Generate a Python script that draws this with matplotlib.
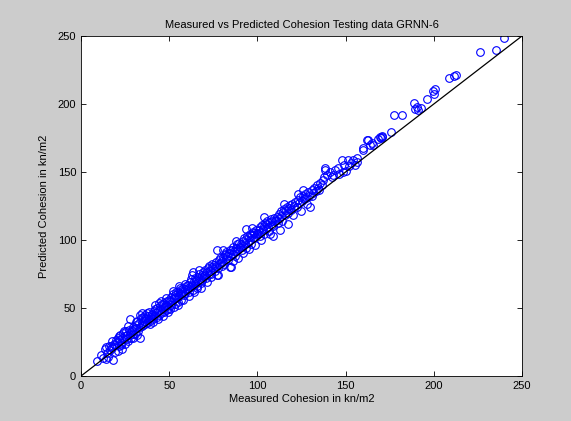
import matplotlib
matplotlib.use('Agg')
import matplotlib.pyplot as plt
import numpy as np

plt.rcParams['font.family'] = ['Liberation Sans', 'DejaVu Sans']

# measured / predicted cohesion (kn/m2), testing set
measured = [
    9.2, 12.7, 13.5, 14.1, 14.8, 15.6, 16.2, 16.9, 17.4, 18.3, 18.8, 19.5, 19.9, 11.5, 15.1, 17.8, 13.9, 19.1,
    20.4, 20.9, 21.3, 21.8, 22.2, 22.6, 23.1, 23.5, 23.9, 24.4, 24.8, 25.2, 25.7, 26.1, 26.6, 27.0, 27.5, 27.9,
    28.3, 28.8, 29.2, 29.7, 20.7, 22.9, 24.1, 25.9, 26.8, 28.1, 29.5, 21.6,
    30.1, 30.6, 31.0, 31.4, 31.9, 32.3, 32.8, 33.2, 33.4, 33.9, 34.3, 34.7, 35.2, 35.6, 36.1, 36.5, 36.9, 37.4,
    37.8, 38.3, 38.7, 39.1, 39.6, 30.9, 32.0, 33.7, 35.0, 36.3, 37.6, 38.9, 39.9, 34.5,
    40.2, 40.6, 41.1, 41.5, 41.9, 42.4, 42.8, 43.3, 43.7, 44.2, 44.6, 45.0, 45.5, 45.9, 46.4, 46.8, 47.2, 47.7,
    48.1, 48.6, 49.0, 49.5, 49.9, 40.9, 42.1, 43.9, 45.3, 46.6, 47.9, 49.3, 44.0, 48.3,
    50.3, 50.8, 51.2, 51.6, 52.1, 52.5, 53.0, 53.4, 53.8, 54.3, 54.7, 55.2, 55.6, 56.0, 56.5, 56.9, 57.4, 57.8,
    58.2, 58.7, 59.1, 59.6, 50.6, 51.9, 53.2, 54.9, 56.2, 57.6, 58.9, 59.9, 55.4, 52.8,
    60.4, 60.8, 61.3, 61.7, 62.2, 62.6, 63.0, 63.5, 63.9, 64.4, 64.8, 65.2, 65.7, 66.1, 66.6, 67.0, 67.4, 67.9,
    68.3, 68.8, 69.2, 69.7, 61.0, 62.9, 64.1, 65.5, 66.9, 68.0, 69.4, 63.3,
    70.1, 70.5, 71.0, 71.4, 71.9, 72.3, 72.7, 73.2, 73.6, 74.1, 74.5, 74.9, 75.4, 75.8, 76.3, 76.7, 77.1, 77.6,
    78.0, 78.5, 78.9, 79.3, 79.8, 71.2, 73.9, 76.9, 77.7, 80.7,
    80.2, 80.6, 81.1, 81.5, 82.0, 82.4, 82.8, 83.3, 83.7, 84.2, 84.6, 85.0, 85.5, 85.9, 86.4, 86.8, 87.2, 87.7,
    88.1, 88.6, 89.0, 89.5, 89.9, 84.5, 86.0, 87.9, 81.8, 88.9,
    90.3, 90.7, 91.2, 91.6, 92.1, 92.5, 92.9, 93.4, 93.8, 94.3, 94.7, 95.1, 95.6, 96.0, 96.5, 96.9, 97.3, 97.8,
    98.2, 98.7, 99.1, 99.6, 91.9, 93.6, 95.3, 97.0, 98.4, 99.9,
    100.3, 100.8, 101.2, 101.7, 102.1, 102.6, 103.0, 103.5, 103.9, 104.4, 104.8, 105.3, 105.7, 106.2, 106.6,
    107.1, 107.5, 108.0, 108.4, 108.9, 109.3, 109.8, 101.9, 104.0, 106.9, 108.6,
    110.3, 110.9, 111.4, 112.0, 112.5, 113.1, 113.6, 114.2, 114.7, 115.3, 115.8, 116.4, 116.9, 117.5, 118.0,
    118.6, 119.1, 119.7, 112.8, 115.0, 117.2, 120.4,
    120.9, 121.5, 122.2, 122.9, 123.6, 124.3, 125.0, 125.7, 126.4, 127.1, 127.8, 128.5, 129.2, 129.8, 123.0,
    125.9, 128.0, 124.7,
    130.8, 131.5, 132.3, 133.1, 133.9, 134.6, 135.4, 136.4, 137.1, 138.0, 138.3, 139.3, 130.8, 134.9,
    143.0, 144.0, 138.3, 141.2, 145.5, 146.4, 147.8, 149.0, 150.2, 151.5, 152.0, 153.3, 154.4, 155.3, 156.3,
    156.3, 148.3, 142.4,
    160.0, 159.7, 162.3, 162.9, 163.8, 164.8, 165.7, 168.2, 169.5, 169.9, 170.5, 170.8, 175.7,
    177.2, 182.2, 188.6, 190.3, 189.3, 192.6, 191.0, 196.1, 200.1, 199.4, 200.7, 208.8, 211.5, 212.6, 226.4,
    235.3, 240.0,
]

predicted = [
    11.0, 13.0, 19.5, 21.3, 16.8, 22.4, 18.9, 21.7, 25.6, 11.8, 23.2, 17.4, 26.3, 15.2, 14.1, 20.5, 12.3, 22.9,
    24.8, 28.1, 21.9, 26.5, 30.2, 24.3, 27.8, 20.1, 31.4, 26.9, 23.5, 29.6, 32.8, 27.2, 25.4, 34.1, 30.5, 42.0,
    28.2, 33.7, 31.0, 35.9, 18.6, 23.0, 33.2, 30.1, 36.8, 32.6, 27.9, 29.4,
    34.6, 31.2, 37.5, 35.0, 40.8, 33.1, 38.6, 36.2, 28.0, 42.3, 39.0, 36.4, 43.5, 40.2, 38.1, 45.0, 41.6, 39.3,
    44.2, 42.0, 47.1, 40.7, 44.8, 39.8, 30.5, 44.9, 37.3, 42.6, 46.3, 38.4, 43.1, 46.0,
    45.3, 42.1, 47.6, 44.4, 49.0, 46.5, 43.7, 50.2, 47.9, 45.1, 51.6, 48.4, 46.0, 52.7, 49.8, 47.2, 53.5, 50.9,
    48.6, 54.8, 51.7, 49.4, 56.0, 39.6, 52.3, 41.8, 55.1, 44.3, 57.2, 46.7, 53.9, 52.0,
    55.2, 52.4, 57.9, 54.6, 60.3, 56.8, 53.1, 59.4, 62.0, 57.3, 54.2, 61.5, 58.7, 63.4, 60.1, 56.0, 62.8, 65.0,
    59.6, 64.1, 61.2, 66.3, 48.9, 62.5, 58.2, 52.0, 64.7, 55.8, 67.4, 62.9, 66.1, 50.7,
    64.9, 67.2, 62.1, 68.8, 65.3, 71.0, 66.7, 63.4, 69.9, 72.3, 67.5, 70.6, 64.8, 73.1, 69.0, 75.2, 71.4, 68.1,
    74.6, 70.9, 76.3, 73.2, 58.5, 74.0, 61.9, 66.2, 78.0, 65.0, 71.8, 76.1,
    74.4, 77.8, 72.0, 76.2, 79.4, 74.9, 81.1, 77.3, 75.0, 80.2, 82.6, 78.4, 81.5, 77.0, 83.9, 80.6, 92.6, 79.1,
    85.2, 82.0, 86.7, 83.3, 81.0, 68.9, 73.0, 74.6, 74.3, 92.6,
    84.7, 87.4, 82.6, 89.1, 86.0, 91.3, 88.2, 85.1, 90.6, 93.0, 87.9, 80.0, 92.4, 89.6, 95.1, 91.8, 88.5, 94.3,
    92.0, 96.7, 93.5, 98.1, 95.2, 80.2, 84.9, 99.0, 90.0, 87.0,
    94.6, 97.0, 92.8, 99.3, 95.9, 101.2, 97.6, 94.2, 100.4, 103.1, 98.0, 101.9, 104.5, 99.7, 96.8, 103.6, 106.0,
    101.3, 104.9, 102.0, 107.4, 103.8, 90.5, 107.8, 93.7, 108.9, 96.5, 105.2,
    104.2, 107.0, 102.6, 109.3, 105.7, 111.0, 107.9, 104.3, 110.5, 112.6, 108.1, 111.7, 114.0, 109.5, 106.8,
    113.2, 115.5, 111.0, 113.9, 110.6, 116.4, 114.1, 99.8, 116.9, 104.1, 103.0,
    114.6, 117.2, 112.7, 119.0, 115.8, 121.1, 117.4, 113.9, 120.3, 122.7, 118.2, 121.9, 124.0, 119.6, 123.5,
    125.4, 121.8, 126.1, 107.5, 126.8, 112.0, 118.4,
    125.2, 127.9, 124.1, 129.6, 127.0, 131.4, 128.8, 132.7, 130.3, 133.6, 131.1, 135.0, 132.4, 124.5, 134.0,
    137.0, 126.3, 121.6,
    136.8, 134.2, 138.5, 136.0, 140.4, 138.1, 142.0, 140.4, 144.2, 146.6, 152.7, 147.8, 132.5, 137.0,
    147.8, 151.5, 151.5, 149.9, 153.2, 148.7, 158.8, 155.1, 151.0, 158.8, 154.3, 156.7, 158.8, 155.1, 160.0,
    157.6, 150.3, 146.0,
    167.4, 166.2, 173.5, 173.5, 169.9, 171.6, 169.9, 174.0, 175.5, 174.8, 176.5, 176.0, 179.6,
    192.2, 192.0, 200.8, 198.0, 196.3, 196.8, 195.6, 204.0, 207.4, 209.6, 211.0, 218.9, 220.8, 221.3, 238.0,
    239.7, 248.8,
]

fig = plt.figure(figsize=(5.71, 4.21), dpi=100, facecolor='#cccccc')
ax = fig.add_axes([0.1419, 0.1069, 0.7723, 0.8076])
ax.set_facecolor('white')

ax.plot(measured, predicted, 'o', mfc='none', mec='#0000ff', ms=5.5, mew=0.8)
ax.plot([0, 250], [0, 250], 'k-', lw=0.9)

ax.set_xlim(0, 250)
ax.set_ylim(0, 250)
ax.set_xticks(np.arange(0, 251, 50))
ax.set_yticks(np.arange(0, 251, 50))
ax.tick_params(direction='in', top=True, right=True, labelsize=8, length=3.5, width=0.6)
for s in ax.spines.values():
    s.set_linewidth(0.6)

ax.set_title('Measured vs Predicted Cohesion Testing data GRNN-6', fontsize=8, pad=6)
ax.set_xlabel('Measured Cohesion in kn/m2', fontsize=8, labelpad=2)
ax.set_ylabel('Predicted Cohesion in kn/m2', fontsize=8, labelpad=6)

fig.savefig('out.png', dpi=100, facecolor=fig.get_facecolor())
